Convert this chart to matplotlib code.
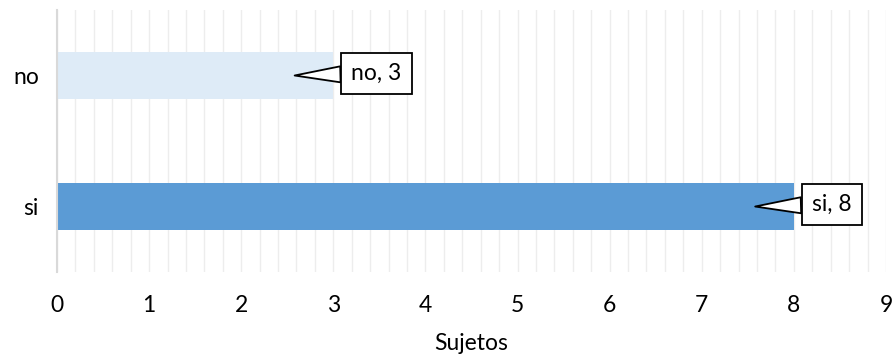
import matplotlib
matplotlib.use("Agg")
import matplotlib.pyplot as plt
import matplotlib.transforms as mtransforms
from matplotlib.ticker import MultipleLocator

categories = ["si", "no"]
values = [8, 3]
colors = ["#5B9BD5", "#DEEBF7"]
x_label = "Sujetos"
x_max = 9

plt.rcParams['font.family'] = ['Lato', 'DejaVu Sans']

fig = plt.figure(figsize=(8.96, 3.57), dpi=100)
ax = fig.add_axes([0.0636, 0.238, 0.9252, 0.734])

ypos = list(range(len(categories)))
ax.barh(ypos, values, height=0.36, color=colors, zorder=2)

ax.set_xlim(0, x_max)
ax.set_ylim(-0.5, len(categories) - 0.5)
ax.set_yticks(ypos)
ax.set_yticklabels(categories)
ax.xaxis.set_major_locator(MultipleLocator(1))
ax.xaxis.set_minor_locator(MultipleLocator(0.2))
ax.grid(True, axis='x', which='both', color='#EDEDED', lw=1.0, zorder=0)
ax.set_axisbelow(True)

for s in ['top', 'right', 'bottom']:
    ax.spines[s].set_visible(False)
ax.spines['left'].set_color('#D9D9D9')
ax.spines['left'].set_linewidth(1.5)
ax.spines['left'].set_zorder(3)

fs = 16.5
ax.tick_params(axis='both', which='both', length=0, labelsize=fs, colors='black')
ax.tick_params(axis='x', pad=16.5)
ax.tick_params(axis='y', pad=13)
ax.set_xlabel(x_label, fontsize=fs, labelpad=12)

txt_tr = mtransforms.offset_copy(ax.transData, fig=fig, x=13, y=1.5, units='points')
for yp, cat, v in zip(ypos, categories, values):
    ax.annotate(f"{cat}, {v}", xy=(v - 0.42, yp), xycoords='data',
                xytext=(v, yp), textcoords=txt_tr,
                ha='left', va='center', fontsize=fs, zorder=5,
                bbox=dict(boxstyle='square,pad=0.45', fc='white', ec='black', lw=1.3),
                arrowprops=dict(arrowstyle='wedge,tail_width=0.7,shrink_factor=0.5',
                                fc='white', ec='black', lw=1.3,
                                shrinkA=0, shrinkB=0))

fig.savefig("out.png", dpi=100)
